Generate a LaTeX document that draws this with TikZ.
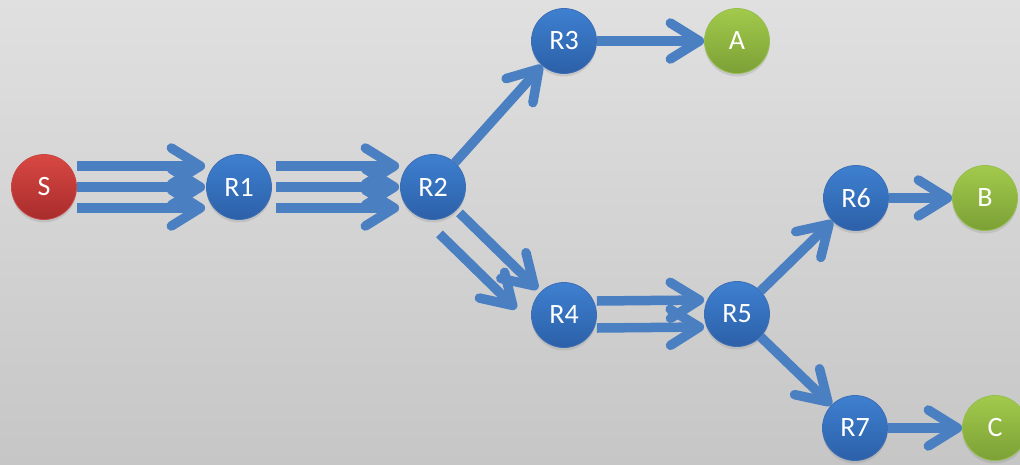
\documentclass[tikz,border=0pt]{standalone}
\usepackage{fontspec}
\setmainfont{Carlito}
\usetikzlibrary{arrows.meta,shadows,calc}
\definecolor{arrowblue}{RGB}{74,127,194}
\definecolor{bgT}{RGB}{224,224,224}
\definecolor{bgB}{RGB}{198,198,198}
\definecolor{blueT}{RGB}{62,128,208}
\definecolor{blueB}{RGB}{44,96,168}
\definecolor{blueD}{RGB}{60,110,180}
\definecolor{redT}{RGB}{216,72,66}
\definecolor{redB}{RGB}{168,44,44}
\definecolor{redD}{RGB}{200,70,70}
\definecolor{greenT}{RGB}{162,202,76}
\definecolor{greenB}{RGB}{124,160,54}
\definecolor{greenD}{RGB}{150,190,80}
\begin{document}
\begin{tikzpicture}[x=1pt,y=-1pt,
  circ/.style={circle,minimum size=65pt,inner sep=0pt,
    font=\fontsize{28}{28}\selectfont,text=white,line width=0.8pt,
    drop shadow={shadow xshift=0pt,shadow yshift=-3pt,opacity=0.22}},
  bnode/.style={circ,top color=blueT,bottom color=blueB,draw=blueD},
  rnode/.style={circ,top color=redT,bottom color=redB,draw=redD},
  gnode/.style={circ,top color=greenT,bottom color=greenB,draw=greenD},
  arr/.style={draw=arrowblue,line width=9.5pt,
    -{Straight Barb[length=29pt,width=36pt,round]}}
]
\shade[top color=bgT,bottom color=bgB] (0,0) rectangle (1020,464);
\useasboundingbox (0,0) rectangle (1020,464);

\node[rnode] (S)  at (44,187)  {S};
\node[bnode] (R1) at (239,187) {R1};
\node[bnode] (R2) at (433,187) {R2};
\node[bnode] (R3) at (564,41)  {R3};
\node[gnode] (A)  at (737,41)  {A};
\node[bnode] (R4) at (564,315) {R4};
\node[bnode] (R5) at (737,314) {R5};
\node[bnode] (R6) at (856,198) {R6};
\node[gnode] (B)  at (985,198) {B};
\node[bnode] (R7) at (855,428) {R7};
\node[gnode] (C)  at (995,428) {C};

% S -> R1 (three)
\draw[arr] ([yshift=21pt]S.east) -- ([yshift=21pt,xshift=-1pt]R1.west);
\draw[arr] (S.east) -- ([xshift=-1pt]R1.west);
\draw[arr] ([yshift=-21pt]S.east) -- ([yshift=-21pt,xshift=-1pt]R1.west);
% R1 -> R2 (three)
\draw[arr] ([yshift=21pt,xshift=4pt]R1.east) -- ([yshift=21pt,xshift=-1pt]R2.west);
\draw[arr] ([xshift=4pt]R1.east) -- ([xshift=-1pt]R2.west);
\draw[arr] ([yshift=-21pt,xshift=4pt]R1.east) -- ([yshift=-21pt,xshift=-1pt]R2.west);
% R2 -> R3
\draw[arr] (R2) -- (R3);
% R2 -> R4 (two)
\draw[arr] ($(R2)!37pt!(R4)$) -- ($(R4)!37pt!(R2)$);
\draw[arr] ($(R2)!37pt!(R4)+(-20,21)$) -- ($(R4)!39pt!(R2)+(-20,21)$);
% R3 -> A
\draw[arr] (R3) -- (A);
% R4 -> R5 (two)
\draw[arr] ([yshift=14pt]R4.east) -- ([yshift=14pt]R5.west);
\draw[arr] ([yshift=-13pt]R4.east) -- ([yshift=-13pt]R5.west);
% R5 -> R6, R5 -> R7
\draw[arr] (R5) -- (R6);
\draw[arr] (R5) -- (R7);
% R6 -> B, R7 -> C
\draw[arr] (R6) -- (B);
\draw[arr] (R7) -- (C);
\end{tikzpicture}
\end{document}
